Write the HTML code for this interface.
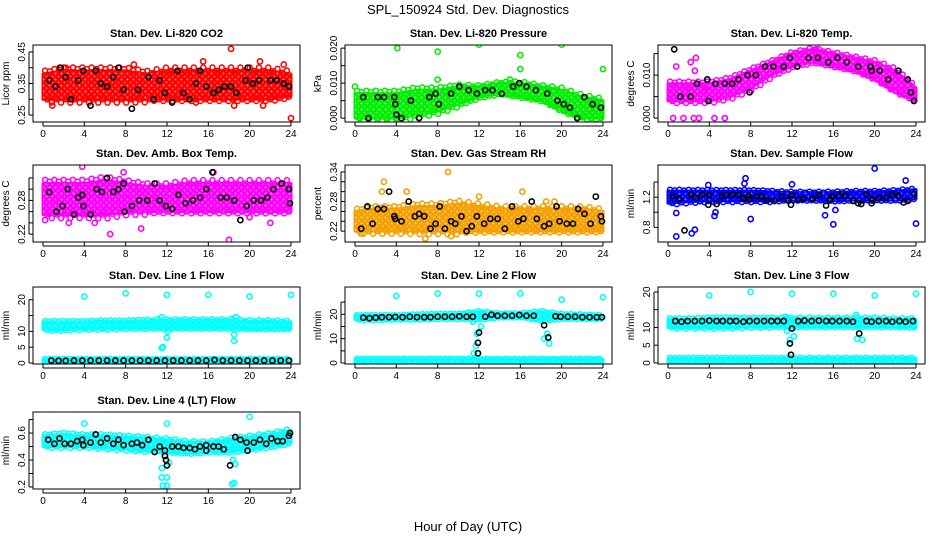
<!DOCTYPE html>
<html><head><meta charset="utf-8"><style>
html,body{margin:0;padding:0;background:#fff}
svg{display:block;font-family:"Liberation Sans",sans-serif}
</style></head><body>
<svg id="chart" width="936" height="540" viewBox="0 0 936 540" xmlns="http://www.w3.org/2000/svg">
<defs>
<pattern id="speckle" width="6" height="6" patternUnits="userSpaceOnUse">
<circle cx="1.5" cy="1.5" r="1" fill="#fff" fill-opacity="0.55"/>
<circle cx="4.5" cy="4.5" r="1" fill="#fff" fill-opacity="0.35"/>
</pattern>
</defs>
<text x="468" y="14" text-anchor="middle" font-size="13">SPL_150924  Std. Dev. Diagnostics</text>
<text x="468" y="531" text-anchor="middle" font-size="13">Hour of Day (UTC)</text>
</svg>
<script>
// shared hours for band envelopes (every 2 h)
const bandHours=[0,2,4,6,8,10,12,14,16,18,20,22,24];
const xTicks=[0,4,8,12,16,20,24];

// Panel 1 CO2
const co2Low=[0.30,0.30,0.30,0.30,0.30,0.30,0.30,0.30,0.30,0.30,0.30,0.30,0.31];
const co2High=[0.38,0.39,0.39,0.39,0.39,0.38,0.39,0.39,0.39,0.39,0.39,0.39,0.38];
const co2Out=[[18.2,0.46],[24,0.24],[15.5,0.42],[21,0.42],[8.8,0.41],[23.3,0.41],[1.6,0.40],[2.2,0.40],[0.9,0.28],[21.3,0.28],[18.5,0.28],[14.8,0.29]];
const co2Black=[[0.6,0.36],[1.2,0.34],[1.7,0.40],[2.2,0.37],[2.7,0.30],[3.4,0.36],[3.9,0.39],[4.6,0.28],[5.1,0.39],[5.6,0.35],[6.2,0.34],[6.8,0.37],[7.3,0.40],[7.8,0.33],[8.6,0.27],[9.2,0.33],[10.2,0.37],[10.7,0.30],[11.3,0.36],[11.8,0.32],[12.5,0.29],[13,0.39],[13.6,0.32],[14.2,0.30],[14.8,0.35],[15.2,0.39],[15.8,0.34],[16.5,0.32],[17,0.33],[17.6,0.34],[18.2,0.34],[18.7,0.32],[19.6,0.36],[19.8,0.40],[20.3,0.35],[20.9,0.36],[22,0.36],[22.6,0.36],[23.3,0.35],[23.8,0.34]];
// Panel 2 Pressure
const prLow=[0,0,0,0.001,0.002,0.004,0.006,0.007,0.006,0.005,0.002,0,0];
const prHigh=[0.007,0.007,0.007,0.008,0.008,0.009,0.009,0.010,0.010,0.009,0.008,0.006,0.005];
const prOut=[[4.1,0.020],[8,0.019],[12,0.021],[16,0.018],[16,0.014],[20,0.021],[24,0.014],[0,0.009],[8,0.011],[15,0.011]];
const prBlack=[[0.8,0.006],[1.3,0],[2.2,0.006],[2.8,0.006],[3.8,0.006],[3.9,0.004],[4.0,0.001],[4.5,0],[5.4,0.005],[6.2,0],[7.2,0.006],[7.8,0.007],[8.1,0.004],[9.3,0.007],[10.1,0.009],[11,0.008],[11.8,0.007],[12.6,0.008],[13.3,0.008],[14.2,0.007],[15.3,0.009],[15.9,0.010],[16.6,0.009],[17.5,0.008],[18.6,0.007],[19.6,0.005],[20.2,0.004],[20.8,0.003],[21.5,0],[22.2,0.006],[23,0.004],[23.8,0.003]];
// Panel 3 Li-820 Temp
const ltLow=[0.004,0.004,0.004,0.005,0.007,0.010,0.012,0.013,0.012,0.011,0.009,0.006,0.004];
const ltHigh=[0.008,0.008,0.008,0.009,0.011,0.013,0.015,0.016,0.015,0.014,0.013,0.011,0.007];
const ltOut=[[0.5,0],[1.5,0],[2.5,0],[3,0],[4.5,0],[5.5,0],[0.8,0.012],[2.2,0.013],[2.7,0.014],[2.6,0.011],[14.3,0.016],[3.5,0.007]];
const ltBlack=[[0.6,0.016],[1.2,0.005],[2.2,0.005],[2.8,0.008],[3.8,0.009],[3.9,0.004],[4.6,0.008],[5.5,0.008],[6.2,0.008],[6.8,0.009],[7.7,0.010],[7.9,0.006],[8.5,0.010],[9.4,0.012],[10.2,0.012],[11.2,0.012],[11.8,0.014],[12.5,0.012],[13.6,0.014],[14.5,0.014],[15.5,0.013],[16.4,0.014],[17.3,0.013],[18.4,0.012],[19.6,0.012],[19.7,0.011],[20.5,0.011],[21.3,0.009],[22.3,0.011],[23.2,0.009],[23.5,0.006],[23.8,0.004]];
// Panel 4 Amb Box Temp
const abLow=[0.255,0.255,0.255,0.255,0.26,0.26,0.26,0.26,0.26,0.26,0.26,0.26,0.26];
const abHigh=[0.31,0.31,0.31,0.315,0.31,0.305,0.305,0.31,0.31,0.31,0.31,0.31,0.31];
const abOut=[[6.5,0.22],[18,0.21],[9.5,0.23],[5,0.24],[3.8,0.34],[7.8,0.33],[16.5,0.33],[0.2,0.245],[2.5,0.24],[22,0.24],[20,0.25]];
const abBlack=[[0.6,0.295],[1.3,0.26],[1.9,0.27],[2.4,0.30],[3.0,0.255],[3.4,0.285],[3.8,0.29],[3.9,0.27],[4.6,0.255],[5.2,0.30],[5.7,0.295],[6.2,0.32],[6.8,0.295],[7.3,0.30],[7.8,0.31],[7.9,0.26],[8.6,0.27],[9.3,0.28],[10.1,0.28],[10.8,0.31],[11.3,0.28],[11.9,0.27],[12.5,0.265],[13.1,0.29],[13.8,0.275],[14.5,0.28],[15.2,0.285],[15.8,0.30],[16.4,0.33],[17.2,0.285],[17.8,0.285],[18.5,0.28],[19.1,0.245],[19.7,0.27],[20.4,0.28],[21.1,0.28],[21.7,0.285],[22.3,0.30],[23.1,0.31],[23.8,0.30],[23.9,0.275]];
// Panel 5 Gas Stream RH
const rhLow=[0.22,0.22,0.22,0.22,0.22,0.22,0.22,0.22,0.22,0.22,0.22,0.22,0.22];
const rhHigh=[0.26,0.265,0.265,0.27,0.27,0.275,0.27,0.265,0.265,0.265,0.265,0.265,0.26];
const rhOut=[[9,0.34],[2.8,0.32],[2.6,0.30],[0.6,0.215],[6.8,0.205],[9.3,0.21],[5,0.30],[12,0.29],[16.2,0.30],[18.5,0.28],[19.3,0.28]];
const rhBlack=[[0.6,0.225],[1.2,0.27],[1.7,0.235],[2.2,0.265],[2.8,0.265],[3.3,0.30],[3.8,0.25],[3.9,0.245],[4.5,0.24],[5.2,0.28],[5.8,0.25],[6.2,0.255],[6.7,0.25],[7.3,0.225],[7.8,0.235],[8.2,0.27],[8.7,0.225],[9.3,0.24],[9.7,0.235],[10.3,0.25],[10.8,0.22],[11.3,0.23],[11.8,0.25],[12.5,0.235],[13.1,0.245],[13.8,0.245],[14.5,0.225],[15.2,0.27],[15.8,0.24],[16.3,0.245],[17.1,0.28],[17.6,0.245],[18.3,0.23],[18.8,0.235],[19.5,0.27],[19.8,0.24],[20.5,0.235],[21.1,0.235],[21.6,0.265],[22.2,0.255],[22.8,0.235],[23.3,0.29],[23.8,0.25],[23.9,0.24]];
// Panel 6 Sample Flow
const sfLow=[1.12,1.14,1.15,1.15,1.15,1.15,1.16,1.16,1.15,1.16,1.16,1.16,1.18];
const sfHigh=[1.28,1.28,1.28,1.28,1.28,1.27,1.26,1.26,1.26,1.27,1.27,1.28,1.30];
const sfOut=[[0.8,0.68],[2.3,0.72],[2.6,0.77],[7.5,1.45],[7.4,1.38],[20,1.58],[23,1.42],[24,0.85],[16,0.84],[8,0.91],[12,1.37],[0.8,0.99],[3.9,1.36],[4.5,0.95],[15.2,0.96],[16.2,1.03],[4.6,1.0]];
const sfBlack=[[0.5,1.21],[1.1,1.18],[1.6,0.76],[2.2,1.23],[2.7,1.19],[3.3,1.23],[3.9,1.10],[4.0,1.22],[4.7,1.11],[5.2,1.21],[5.6,1.23],[6.2,1.23],[6.8,1.23],[7.3,1.18],[7.8,1.22],[7.9,1.17],[8.6,1.21],[9.1,1.21],[9.6,1.16],[10.3,1.15],[11,1.21],[11.6,1.16],[11.9,1.10],[12,1.23],[12.6,1.17],[13.1,1.18],[14,1.18],[14.6,1.23],[15.3,1.09],[15.7,1.17],[15.9,1.21],[16.6,1.22],[17.2,1.22],[17.9,1.15],[18.4,1.12],[18.7,1.11],[19.2,1.23],[19.7,1.12],[19.8,1.17],[20.4,1.19],[21.1,1.19],[21.7,1.24],[22.3,1.22],[22.8,1.13],[23.2,1.15],[23.8,1.24]];
// Panel 7 Line 1 Flow
const l1Low=[10.5,10.5,10.8,10.8,11,11,11,11,11,11,10.8,10.8,10.8];
const l1High=[13,13,13,13.2,13.2,13.4,13.5,13.5,13.5,13.5,13.2,13.2,13];
const l1BaseLow=[0.3,0.3,0.3,0.3,0.3,0.3,0.3,0.3,0.3,0.3,0.3,0.3,0.3];
const l1BaseHigh=[1.2,1.2,1.2,1.2,1.2,1.2,1.2,1.2,1.2,1.2,1.2,1.2,1.2];
const l1Out=[[4,21],[8,22],[12,21.5],[16,21.5],[20,21],[24,21.5],[11.5,4.7],[11.6,5],[12,8],[12.1,10],[18.5,9],[18.5,7],[11.5,14.5],[18.3,14],[18.7,14.5]];
const l1Black=[[0.8,0.8],[1.5,0.7],[2.2,0.7],[3,0.8],[3.8,0.8],[4.6,0.8],[5.4,0.8],[6.2,0.8],[7,0.8],[7.8,0.8],[8.6,0.8],[9.4,0.8],[10.2,0.8],[11,0.8],[11.8,0.8],[12.6,0.8],[13.4,0.8],[14.2,0.8],[15,0.8],[15.8,0.8],[16.6,1.0],[17.4,0.8],[18.2,0.8],[19,0.8],[19.8,0.8],[20.6,0.8],[21.4,0.8],[22.2,0.8],[23,0.8],[23.8,0.8]];
// Panel 8 Line 2 Flow
const l2Low=[17.8,17.8,18,18,18.2,18.2,18,18.8,18.8,17.5,18.2,18.2,18.2];
const l2High=[19.5,19.5,19.5,19.8,20,20,21,20.2,20.2,21,20,19.8,19.5];
const l2BaseLow=[0.2,0.2,0.2,0.2,0.2,0.2,0.2,0.2,0.2,0.2,0.2,0.2,0.2];
const l2BaseHigh=[1.6,1.6,1.6,1.6,1.6,1.6,1.6,1.6,1.6,1.6,1.6,1.6,1.6];
const l2Out=[[4,27.5],[8,28.5],[12,28.5],[16,28.5],[20,26],[24,27],[11.5,4],[11.7,7],[11.8,12],[12.2,15],[11.4,17],[18.3,10],[18.6,12],[18.8,8],[18.5,19]];
const l2Black=[[0.8,18.6],[1.4,18.4],[2,18.6],[2.6,18.8],[3.3,18.8],[3.9,18.9],[4.6,18.8],[5.3,19],[6,18.8],[6.7,18.8],[7.3,18.8],[8,19],[8.7,19],[9.4,19],[10.1,19.2],[10.8,19],[11.4,19],[11.9,4],[11.9,8.3],[12,12.5],[12.6,19],[13.2,19.8],[13.8,19.4],[14.5,19.4],[15.2,19.4],[15.9,19.7],[16.6,19.4],[17.3,19.4],[18.3,15.5],[18.7,10.5],[19.4,19.2],[19.9,19],[20.6,19],[21.3,19],[22,18.8],[22.7,18.8],[23.4,18.8],[23.9,18.8]];
// Panel 9 Line 3 Flow
const l3Low=[10,10,10,10,10.2,10.2,10.2,10.2,10.2,10.2,10.2,10.2,10];
const l3High=[12.3,12.3,12.5,12.5,12.5,12.5,12.5,12.5,12.5,12.5,12.5,12.3,12.3];
const l3BaseLow=[0.2,0.2,0.2,0.2,0.2,0.2,0.2,0.2,0.2,0.2,0.2,0.2,0.2];
const l3BaseHigh=[1.3,1.3,1.3,1.3,1.3,1.3,1.3,1.3,1.3,1.3,1.3,1.3,1.3];
const l3Out=[[4,19],[8,20],[12,19.5],[16,19.5],[20,19],[24,19.5],[11.8,6.5],[12.2,7.5],[11.5,9],[18.3,6.8],[18.8,6.5],[18.2,13.5],[11.4,13]];
const l3Black=[[0.7,11.8],[1.3,11.6],[1.9,11.8],[2.6,11.8],[3.3,11.8],[4,11.9],[4.7,11.8],[5.3,11.8],[6,11.8],[6.6,11.8],[7.3,11.6],[7.9,11.8],[8.6,11.8],[9.3,11.8],[10,11.8],[10.6,11.8],[11.2,11.8],[11.8,5.5],[11.9,2.3],[12,9.7],[12.6,11.8],[13.2,11.9],[13.9,11.8],[14.6,11.9],[15.3,11.8],[15.9,11.8],[16.6,11.8],[17.3,11.8],[17.9,11.6],[18.5,8.3],[19.2,11.8],[19.7,11.6],[20.4,11.8],[21.1,11.8],[21.7,11.6],[22.4,11.8],[23,11.6],[23.7,11.8]];
// Panel 10 Line 4 (LT) Flow
const l4Low=[0.50,0.50,0.50,0.49,0.48,0.47,0.46,0.45,0.46,0.46,0.48,0.50,0.53];
const l4High=[0.58,0.59,0.58,0.58,0.57,0.56,0.55,0.53,0.53,0.55,0.57,0.59,0.62];
const l4Out=[[4,0.67],[12,0.67],[20,0.72],[11.5,0.27],[11.6,0.21],[12,0.21],[12,0.27],[18.3,0.22],[18.5,0.23],[18.6,0.37],[11.5,0.34],[12.2,0.38],[18.4,0.40]];
const l4Black=[[0.5,0.55],[1.1,0.52],[1.6,0.56],[2.1,0.52],[2.7,0.52],[3.3,0.54],[3.8,0.55],[3.9,0.51],[4.6,0.53],[5.1,0.59],[5.6,0.53],[6.2,0.56],[6.8,0.52],[7.3,0.55],[7.8,0.51],[8.6,0.52],[9.1,0.53],[9.6,0.51],[10.2,0.55],[10.8,0.46],[11.3,0.50],[11.8,0.47],[11.8,0.43],[11.9,0.40],[12,0.36],[12.5,0.50],[13.1,0.50],[13.6,0.49],[14.2,0.49],[14.7,0.48],[15.2,0.50],[15.8,0.51],[15.8,0.47],[16.5,0.50],[17,0.50],[17.5,0.48],[18.1,0.36],[18.6,0.57],[19.1,0.55],[19.7,0.53],[19.8,0.47],[20.4,0.53],[21,0.55],[21.6,0.52],[22.1,0.56],[22.7,0.54],[23.2,0.54],[23.8,0.58],[23.9,0.60]];

const panels=[
 {name:'co2',title:'Stan. Dev. Li-820 CO2',ylab:'Licor ppm',col:0,row:0,lim:[0.228,0.472],ticks:[0.25,0.30,0.35,0.40,0.45],labels:['0.25','','0.35','','0.45'],color:'#ff0000',bands:[[co2Low,co2High]],out:co2Out,black:co2Black},
 {name:'pressure',title:'Stan. Dev. Li-820 Pressure',ylab:'kPa',col:1,row:0,lim:[-0.0011,0.0209],ticks:[0,0.005,0.010,0.015,0.020],labels:['0.000','','0.010','','0.020'],color:'#00ee00',bands:[[prLow,prHigh]],out:prOut,black:prBlack},
 {name:'li820-temp',title:'Stan. Dev. Li-820 Temp.',ylab:'degrees C',col:2,row:0,lim:[-0.0009,0.0170],ticks:[0,0.005,0.010,0.015],labels:['0.000','','0.010',''],color:'#ff00ff',bands:[[ltLow,ltHigh]],out:ltOut,black:ltBlack},
 {name:'amb-box-temp',title:'Stan. Dev. Amb. Box Temp.',ylab:'degrees C',col:0,row:1,lim:[0.206,0.343],ticks:[0.22,0.24,0.26,0.28,0.30,0.32],labels:['0.22','','','0.28','',''],color:'#ff00ff',bands:[[abLow,abHigh]],out:abOut,black:abBlack},
 {name:'gas-stream-rh',title:'Stan. Dev. Gas Stream RH',ylab:'percent',col:1,row:1,lim:[0.198,0.354],ticks:[0.22,0.24,0.26,0.28,0.30,0.32,0.34],labels:['0.22','','','0.28','','','0.34'],color:'#f5a000',bands:[[rhLow,rhHigh]],out:rhOut,black:rhBlack},
 {name:'sample-flow',title:'Stan. Dev. Sample Flow',ylab:'ml/min',col:2,row:1,lim:[0.606,1.626],ticks:[0.8,1.0,1.2,1.4],labels:['0.8','','1.2',''],color:'#0000ff',bands:[[sfLow,sfHigh]],out:sfOut,black:sfBlack},
 {name:'line1-flow',title:'Stan. Dev. Line 1 Flow',ylab:'ml/min',col:0,row:2,lim:[-0.3,24],ticks:[0,5,10,15,20],labels:['0','5','10','','20'],color:'#00ffff',bands:[[l1Low,l1High],[l1BaseLow,l1BaseHigh]],out:l1Out,black:l1Black},
 {name:'line2-flow',title:'Stan. Dev. Line 2 Flow',ylab:'ml/min',col:1,row:2,lim:[-0.4,31.2],ticks:[0,5,10,15,20,25],labels:['0','','10','','20',''],color:'#00ffff',bands:[[l2Low,l2High],[l2BaseLow,l2BaseHigh]],out:l2Out,black:l2Black},
 {name:'line3-flow',title:'Stan. Dev. Line 3 Flow',ylab:'ml/min',col:2,row:2,lim:[-0.3,21.4],ticks:[0,5,10,15,20],labels:['0','5','10','','20'],color:'#00ffff',bands:[[l3Low,l3High],[l3BaseLow,l3BaseHigh]],out:l3Out,black:l3Black},
 {name:'line4-flow',title:'Stan. Dev. Line 4 (LT) Flow',ylab:'ml/min',col:0,row:3,lim:[0.185,0.756],ticks:[0.2,0.3,0.4,0.5,0.6,0.7],labels:['0.2','','0.4','','0.6',''],color:'#00ffff',bands:[[l4Low,l4High]],out:l4Out,black:l4Black}
];

const svg=document.getElementById('chart');
const NS='http://www.w3.org/2000/svg';
const colLeft=[33,345,658], rowTop=[45,165,287,412], W=267, H=77;
function mk(tag,attrs,parent){const e=document.createElementNS(NS,tag);for(const k in attrs)e.setAttribute(k,attrs[k]);(parent||svg).appendChild(e);return e;}
function interp(arr,h){const i=Math.min(Math.floor(h/2),11);const f=(h-bandHours[i])/2;return arr[i]+(arr[i+1]-arr[i])*f;}

panels.forEach(p=>{
  const L=colLeft[p.col], T=rowTop[p.row], B=T+H, R=L+W;
  const xs=h=>L+10+h/24*248;
  const ys=v=>B-(v-p.lim[0])/(p.lim[1]-p.lim[0])*H;
  const g=mk('g',{});
  
  
  const t=mk('text',{x:(L+R)/2,y:T-8,'text-anchor':'middle','font-size':'11','font-weight':'bold'},g);
  t.textContent=p.title;
  
  
  const yl=mk('text',{x:0,y:0,'text-anchor':'middle','font-size':'10',transform:`translate(${L-24},${(T+B)/2}) rotate(-90)`},g);
  yl.textContent=p.ylab;
  
  
  const clip='clip-'+p.name;
  const cp=mk('clipPath',{id:clip},g); mk('rect',{x:L,y:T,width:W,height:H},cp);
  const dg=mk('g',{'clip-path':`url(#${clip})`},g);
  p.bands.forEach(b=>{
    let pts=bandHours.map((h,i)=>xs(h)+','+ys(b[1][i]));
    pts=pts.concat(bandHours.map((h,i)=>xs(h)+','+ys(b[0][i])).reverse());
    const poly=mk('polygon',{points:pts.join(' '),fill:p.color,stroke:p.color,'stroke-width':'3','stroke-linejoin':'round'},dg);
    
    
    mk('polygon',{points:pts.join(' '),fill:'url(#speckle)'},dg);
    // edge markers along envelope
    for(let h=0.2;h<24;h+=0.45){
      const k=Math.round(h*10)%3;
      const hi=interp(b[1],h), lo=interp(b[0],h), span=hi-lo;
      const c1=mk('circle',{cx:xs(h),cy:ys(hi+span*0.06*k),r:2.5,fill:'none',stroke:p.color,'stroke-width':'1.5'},dg);
      
      
      const c2=mk('circle',{cx:xs(h+0.2),cy:ys(lo-span*0.06*((k+1)%3)),r:2.5,fill:'none',stroke:p.color,'stroke-width':'1.5'},dg);
      
      
    }
  });
  p.out.forEach(d=>{
    const c=mk('circle',{cx:xs(d[0]),cy:ys(d[1]),r:2.6,fill:'none',stroke:p.color,'stroke-width':'1.6'},dg);
    
    
  });
  p.black.forEach(d=>{
    const c=mk('circle',{cx:xs(d[0]),cy:ys(d[1]),r:2.6,fill:'none',stroke:'#000','stroke-width':'1.6'},dg);
    
    
  });
  const box=mk('rect',{x:L,y:T,width:W,height:H,fill:'none',stroke:'#000','stroke-width':'1'},g);
  
  
  xTicks.forEach(h=>{
    mk('line',{x1:xs(h),x2:xs(h),y1:B,y2:B+4,stroke:'#000'},g);
    const tl=mk('text',{x:xs(h),y:B+15,'text-anchor':'middle','font-size':'10'},g);
    tl.textContent=h;
    
    
  });
  mk('line',{x1:xs(0),x2:xs(24),y1:B+4,y2:B+4,stroke:'#000'},g);
  p.ticks.forEach((v,i)=>{
    mk('line',{x1:L-4,x2:L,y1:ys(v),y2:ys(v),stroke:'#000'},g);
    if(p.labels[i]){
      const tl=mk('text',{x:0,y:0,'text-anchor':'middle','font-size':'10',transform:`translate(${L-8},${ys(v)}) rotate(-90)`},g);
      tl.textContent=p.labels[i];
      
      
    }
  });
  mk('line',{x1:L-4,x2:L-4,y1:ys(p.ticks[0]),y2:ys(p.ticks[p.ticks.length-1]),stroke:'#000'},g);
});
</script>
</body></html>
